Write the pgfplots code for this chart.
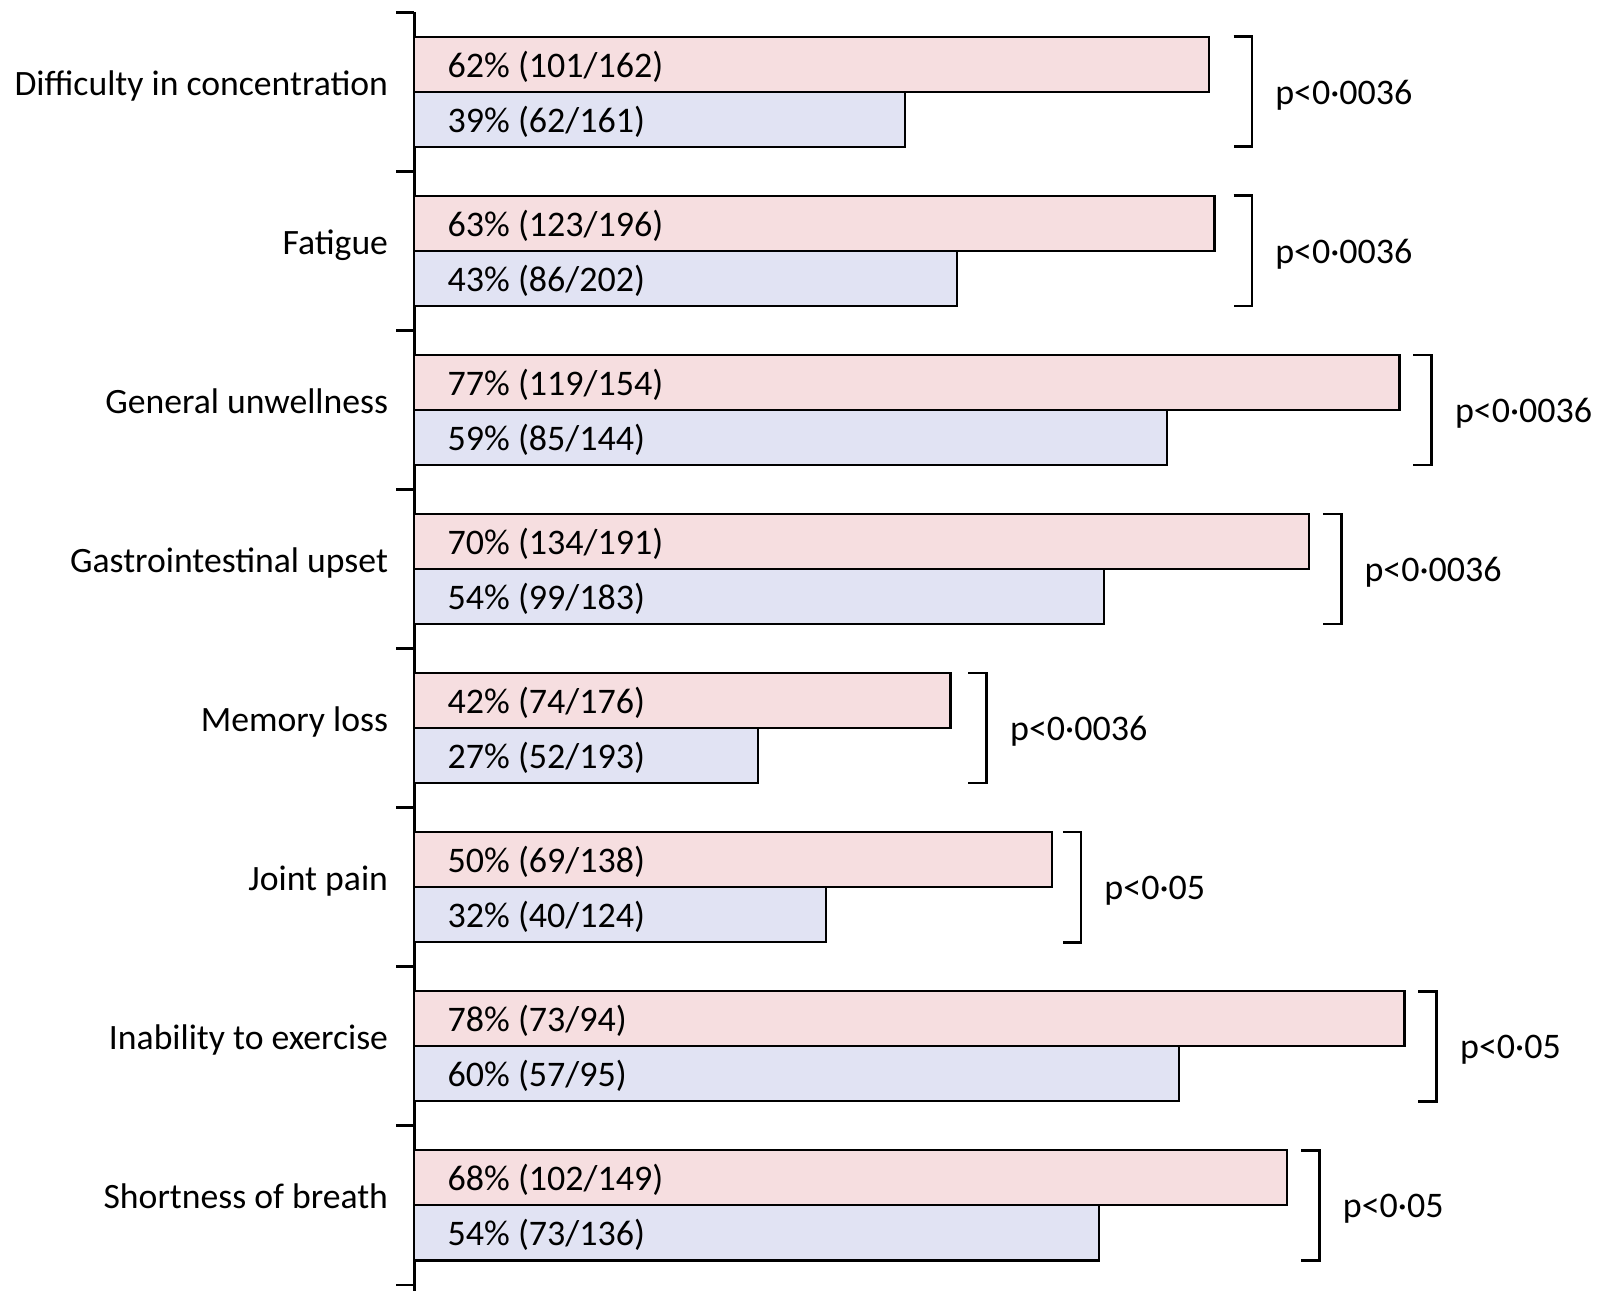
\documentclass[border=0pt]{standalone}
\usepackage{pgfplots}
\pgfplotsset{compat=1.18}
\usepackage{pgfplotstable}
\usepackage{fontspec}
\setmainfont{Carlito}

\definecolor{barpink}{RGB}{246,222,224}
\definecolor{barblue}{RGB}{225,227,243}

% y: row index; pink: first group (%); blue: second group (%)
\pgfplotstableread{
y pink  blue
0 62.35 38.51
1 62.76 42.57
2 77.27 59.03
3 70.16 54.10
4 42.05 26.94
5 50.00 32.26
6 77.66 60.00
7 68.46 53.68
}\symptoms

% bracket at x=#1 around row #2, with p-value #3
\newcommand\pbracket[3]{%
  \draw[line width=0.8pt, line join=miter]
    ([xshift=-5.5pt]axis cs:#1,#2-0.346) -- (axis cs:#1,#2-0.346)
    -- (axis cs:#1,#2+0.346) -- ([xshift=-5.5pt]axis cs:#1,#2+0.346);
  \node[anchor=base west, inner sep=0pt, xshift=6.8pt, yshift=-3.7pt]
    at (axis cs:#1,#2) {#3};}

% label inside a bar, at row position #1
\newcommand\barlabel[2]{%
  \node[anchor=base west, inner sep=0pt, xshift=9.8pt, yshift=-3.9pt]
    at (axis cs:0,#1) {#2};}

\begin{document}
\fontsize{10.8}{13}\selectfont
\begin{tikzpicture}
\begin{axis}[
  x=3.825pt, y=47.73pt, y dir=reverse,
  xmin=0, xmax=90, ymin=-0.5, ymax=7.54,
  clip=false,
  axis x line=none,
  axis y line=left,
  axis line style={-, line width=0.8pt},
  xtick=\empty,
  ytick={0,...,7},
  yticklabels={Difficulty in concentration, Fatigue, General unwellness,
    Gastrointestinal upset, Memory loss, Joint pain, Inability to exercise,
    Shortness of breath},
  major tick length=0pt,
  yticklabel style={anchor=base east, xshift=-4.1pt, yshift=-1.0pt,
    font=\fontsize{10.7}{13}\selectfont},
  extra y ticks={-0.5,0.5,1.5,2.5,3.5,4.5,5.5,6.5,7.5},
  extra y tick labels={},
  extra y tick style={major tick length=5.4pt, tick align=outside,
    tick style={line width=0.8pt, black}},
  xbar, bar width=0.346,
  every node/.append style={font=\fontsize{10.8}{13}\selectfont},
]
\addplot[xbar, fill=barpink, draw=black, line width=0.65pt, bar shift=-0.173]
  table[x=pink, y=y] {\symptoms};
\addplot[xbar, fill=barblue, draw=black, line width=0.65pt, bar shift=0.173]
  table[x=blue, y=y] {\symptoms};

\barlabel{-0.173}{62\% (101/162)}
\barlabel{0.173}{39\% (62/161)}
\barlabel{0.827}{63\% (123/196)}
\barlabel{1.173}{43\% (86/202)}
\barlabel{1.827}{77\% (119/154)}
\barlabel{2.173}{59\% (85/144)}
\barlabel{2.827}{70\% (134/191)}
\barlabel{3.173}{54\% (99/183)}
\barlabel{3.827}{42\% (74/176)}
\barlabel{4.173}{27\% (52/193)}
\barlabel{4.827}{50\% (69/138)}
\barlabel{5.173}{32\% (40/124)}
\barlabel{5.827}{78\% (73/94)}
\barlabel{6.173}{60\% (57/95)}
\barlabel{6.827}{68\% (102/149)}
\barlabel{7.173}{54\% (73/136)}

\pbracket{65.7}{0}{p<0·0036}
\pbracket{65.7}{1}{p<0·0036}
\pbracket{79.8}{2}{p<0·0036}
\pbracket{72.7}{3}{p<0·0036}
\pbracket{44.9}{4}{p<0·0036}
\pbracket{52.3}{5}{p<0·05}
\pbracket{80.2}{6}{p<0·05}
\pbracket{71.0}{7}{p<0·05}

% page corners
\coordinate (pageNW) at (axis cs:-32.5,-0.577);
\coordinate (pageSE) at (axis cs:93.94,7.54);
\end{axis}
\pgfresetboundingbox
\path[use as bounding box] (pageNW) rectangle (pageSE);
\end{tikzpicture}
\end{document}
